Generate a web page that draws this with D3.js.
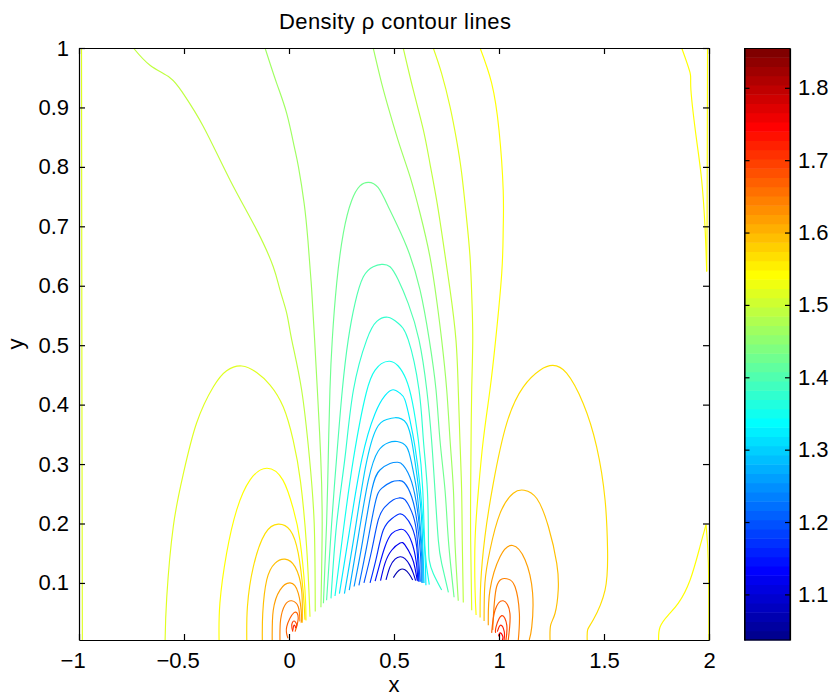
<!DOCTYPE html>
<html>
<head>
<meta charset="utf-8">
<title>Density contour lines</title>
<script src="https://d3js.org/d3.v7.min.js"></script>
<style>
  body { margin: 0; background: #fff; }
  svg text { font-family: "Liberation Sans", Arial, sans-serif; fill: #000; }
  .axis text { font-size: 22px; }
  .axis path, .axis line { stroke: #000; stroke-width: 1.2; }
</style>
</head>
<body>
<svg id="chart" width="835" height="697"></svg>
<script>
// axis ranges and ticks
var xDomain = [-1, 2];
var yDomain = [0.004, 1];
var rhoDomain = [1.037, 1.855];
var xTicks = [-1, -0.5, 0, 0.5, 1, 1.5, 2];
var yTicks = [0.1, 0.2, 0.3, 0.4, 0.5, 0.6, 0.7, 0.8, 0.9, 1];
var rhoTicks = [1.1, 1.2, 1.3, 1.4, 1.5, 1.6, 1.7, 1.8];

// contour lines, [x, y], named by level
var r1063 = [[.497,.109],[.515,.118],[.533,.123],[.552,.122],[.572,.115],[.589,.105]];
var r1090 = [[.462,.105],[.481,.127],[.505,.140],[.529,.144],[.552,.141],[.575,.130],[.592,.116],[.603,.104]];
var r1116 = [[.436,.104],[.457,.133],[.489,.155],[.529,.167],[.552,.164],[.584,.144],[.600,.125],[.611,.104]];
var r1143 = [[.410,.103],[.433,.133],[.457,.161],[.489,.183],[.527,.190],[.552,.188],[.584,.169],[.606,.135],[.614,.103]];
var r1169 = [[.386,.100],[.417,.144],[.449,.189],[.489,.208],[.525,.216],[.552,.212],[.584,.195],[.608,.161],[.618,.102]];
var r1195 = [[.357,.100],[.394,.155],[.425,.206],[.457,.228],[.497,.240],[.525,.243],[.552,.240],[.584,.220],[.608,.184],[.624,.102]];
var r1222 = [[.333,.096],[.370,.161],[.410,.234],[.441,.259],[.489,.270],[.522,.272],[.548,.269],[.584,.245],[.611,.200],[.627,.144],[.629,.102]];
var r1248 = [[.310,.094],[.346,.161],[.394,.256],[.433,.290],[.481,.301],[.518,.303],[.544,.298],[.584,.270],[.616,.211],[.632,.144],[.633,.100]];
var r1274 = [[.287,.088],[.330,.178],[.378,.273],[.425,.322],[.473,.336],[.515,.338],[.560,.329],[.584,.301],[.608,.256],[.624,.200],[.636,.144],[.638,.100]];
var r1301 = [[.264,.082],[.312,.183],[.365,.296],[.417,.360],[.465,.375],[.505,.378],[.535,.376],[.560,.368],[.584,.340],[.608,.284],[.627,.228],[.636,.172],[.643,.100]];
var r1327 = [[.240,.082],[.286,.183],[.346,.307],[.410,.385],[.457,.415],[.495,.425],[.529,.419],[.552,.408],[.576,.374],[.600,.329],[.624,.262],[.640,.190],[.648,.144],[.652,.096]];
var r1354 = [[.219,.078],[.259,.189],[.306,.307],[.368,.420],[.410,.458],[.44,.469],[.48,.473],[.52,.465],[.557,.443],[.587,.405],[.616,.340],[.637,.256],[.648,.155],[.668,.097]];
var r1380 = [[.200,.074],[.227,.200],[.267,.312],[.307,.425],[.37,.509],[.418,.540],[.471,.547],[.520,.537],[.568,.509],[.619,.425],[.640,.340],[.659,.256],[.664,.172],[.668,.138],[.687,.116],[.727,.088]];
var r1406 = [[.179,.071],[.203,.200],[.227,.312],[.254,.425],[.282,.509],[.314,.570],[.354,.615],[.401,.632],[.441,.636],[.481,.632],[.520,.610],[.568,.570],[.619,.509],[.656,.425],[.679,.340],[.695,.256],[.711,.172],[.727,.133],[.759,.084]];
var r1433 = [[.164,.066],[.179,.200],[.187,.312],[.195,.425],[.206,.509],[.227,.604],[.259,.689],[.298,.743],[.338,.768],[.378,.774],[.425,.765],[.481,.727],[.560,.666],[.624,.593],[.668,.509],[.700,.425],[.719,.340],[.743,.256],[.759,.172],[.786,.076]];
var r1459a = [[-.114,1],[-.059,.941],[-.011,.890],[.025,.834],[.045,.800],[.072,.739],[.090,.677],[.108,.593],[.122,.509],[.135,.425],[.151,.312],[.158,.200],[.152,.059]];
var r1459b = [[.401,1],[.441,.941],[.481,.890],[.529,.834],[.576,.784],[.624,.722],[.671,.649],[.703,.576],[.727,.509],[.751,.425],[.767,.340],[.783,.256],[.790,.172],[.806,.070]];
var r1486a = [[-.741,1],[-.662,.971],[-.567,.950],[-.505,.924],[-.408,.868],[-.281,.778],[-.154,.694],[-.075,.632],[-.043,.593],[-.011,.554],[.013,.509],[.060,.425],[.097,.312],[.120,.200],[.125,.052]];
var r1486b = [[.544,1],[.592,.929],[.640,.862],[.671,.806],[.703,.744],[.735,.671],[.767,.593],[.795,.509],[.806,.425],[.814,.340],[.822,.256],[.825,.172],[.830,.067]];
var r1512a = [[-.590,.004],[-.582,.077],[-.551,.195],[-.503,.284],[-.440,.369],[-.360,.430],[-.297,.457],[-.225,.465],[-.154,.454],[-.090,.433],[-.027,.396],[.020,.340],[.055,.270],[.084,.160],[.100,.043]];
var r1512b = [[.687,1],[.727,.957],[.767,.901],[.798,.845],[.822,.790],[.843,.722],[.862,.649],[.871,.576],[.875,.509],[.870,.425],[.867,.340],[.865,.256],[.865,.172],[.870,.054]];
var r1512c = [[-.988,1],[-.987,.7],[-.986,.4],[-.984,.004]];
var r1538a = [[-.333,.004],[-.329,.066],[-.297,.150],[-.249,.223],[-.186,.273],[-.106,.293],[-.029,.273],[.020,.225],[.052,.172],[.076,.088],[.081,.037]];
var r1538b = [[.910,1],[.965,.941],[1.0,.862],[1.020,.761],[1.020,.694],[1.013,.621],[.984,.509],[.957,.425],[.925,.340],[.902,.256],[.886,.172],[.886,.088],[.891,.046]];
var r1538c = [[1.870,1],[1.91,.958],[1.914,.929],[1.941,.845],[1.965,.778],[1.981,.699],[1.989,.624]];
var r1538c2 = [[1.989,.624],[1.991,.72],[1.992,.85],[1.993,1]];
var r1538d = [[1.760,.004],[1.767,.026],[1.806,.046],[1.854,.066],[1.91,.105],[1.957,.161],[1.986,.198]];
var r1538d2 = [[1.986,.198],[1.997,.133],[1.999,.004]];
var r1565a = [[-.201,.004],[-.198,.060],[-.170,.127],[-.114,.183],[-.051,.199],[.005,.189],[.044,.150],[.068,.083],[.076,.038]];
var r1565b = [[.910,.042],[.913,.100],[.933,.178],[.973,.268],[1.037,.369],[1.116,.430],[1.195,.458],[1.256,.466],[1.322,.453],[1.401,.402],[1.465,.329],[1.505,.240],[1.517,.155],[1.505,.088],[1.449,.038],[1.422,.021],[1.420,.004]];
var r1591a = [[-.127,.004],[-.125,.049],[-.106,.105],[-.067,.133],[-.019,.140],[.029,.127],[.060,.088],[.063,.033]];
var r1591b = [[.929,.036],[.933,.100],[.957,.155],[1.005,.217],[1.068,.251],[1.120,.256],[1.180,.242],[1.235,.195],[1.275,.133],[1.282,.088],[1.267,.049],[1.246,.029],[1.243,.004]];
var r1618a = [[-.080,.004],[-.075,.054],[-.043,.088],[.005,.100],[.044,.083],[.060,.043],[.056,.033]];
var r1618b = [[.949,.029],[.957,.088],[1.005,.144],[1.065,.163],[1.124,.139],[1.160,.083],[1.156,.026],[1.144,.004]];
var r1644a = [[-.043,.004],[-.040,.038],[-.019,.063],[.013,.070],[.044,.060],[.052,.035]];
var r1644b = [[.970,.021],[.989,.094],[1.037,.107],[1.076,.094],[1.097,.049],[1.092,.004]];
var r1670a = [[-.005,.007],[-.011,.026],[.024,.050],[.044,.041],[.029,.018]];
var r1670b = [[.965,.016],[.981,.054],[1.02,.070],[1.052,.049],[1.044,.004]];
var r1697a = [[.018,.018],[.013,.029],[.024,.036],[.037,.029],[.029,.024]];
var r1697b = [[.984,.016],[.986,.026],[1.013,.045],[1.037,.029],[1.033,.004]];
var r1723a = [[.018,.020],[.024,.029],[.033,.024]];
var r1723b = [[.992,.018],[1.008,.029],[1.025,.018],[1.024,.004]];
var r1750b = [[.998,.010],[1.005,.016],[1.018,.010],[1.016,.004]];

var contourLevels = [1.063,1.090,1.116,1.143,1.169,1.195,1.222,1.248,1.274,1.301,1.327,1.354,1.380,1.406,1.433,
  1.459,1.459,1.486,1.486,1.512,1.512,1.512,1.538,1.538,1.538,1.538,1.538,1.538,1.565,1.565,1.591,1.591,1.618,1.618,1.644,1.644,1.670,1.670,1.697,1.697,1.723,1.723,1.750];
var contourLines = [r1063,r1090,r1116,r1143,r1169,r1195,r1222,r1248,r1274,r1301,r1327,r1354,r1380,r1406,r1433,
  r1459a,r1459b,r1486a,r1486b,r1512a,r1512b,r1512c,r1538a,r1538b,r1538c,r1538c2,r1538d,r1538d2,r1565a,r1565b,r1591a,r1591b,r1618a,r1618b,r1644a,r1644b,r1670a,r1670b,r1697a,r1697b,r1723a,r1723b,r1750b];

var svg = d3.select("#chart");
var plot = {left: 79, right: 709, top: 48, bottom: 640};
var bar = {left: 744.5, right: 790};

var x = d3.scaleLinear().domain(xDomain).range([plot.left, plot.right]);
var y = d3.scaleLinear().domain(yDomain).range([plot.bottom, plot.top]);
var yBar = d3.scaleLinear().domain(rhoDomain).range([plot.bottom, plot.top]);

// matlab jet, 64 steps
var jetRamp = d3.scaleLinear()
  .domain([0, 7/63, 23/63, 39/63, 55/63, 1])
  .range(["#000090", "#0000ff", "#00ffff", "#ffff00", "#ff0000", "#800000"]);
function jet(v) {
  var i = Math.min(63, Math.floor((v - rhoDomain[0]) / (rhoDomain[1] - rhoDomain[0]) * 64));
  return jetRamp(i / 63);
}

var clipId = "plotClip";
svg.append("clipPath").attr("id", clipId).append("rect")
  .attr("x", plot.left).attr("y", plot.top)
  .attr("width", plot.right - plot.left).attr("height", plot.bottom - plot.top);

var line = d3.line()
  .x(function(d) { return x(d[0]); })
  .y(function(d) { return y(d[1]); })
  .curve(d3.curveNatural);

svg.append("g").attr("clip-path", "url(#" + clipId + ")")
  .selectAll("path").data(contourLines).enter().append("path")
  .attr("d", line)
  .attr("fill", "none")
  .attr("stroke-width", 1.15)
  .attr("stroke", function(d, i) { return jet(contourLevels[i]); });

function fmtX(d) { return String(d).replace("-", "\u2212"); }

var xAxis = svg.append("g").attr("class", "axis")
  .attr("transform", "translate(0," + plot.bottom + ")")
  .call(d3.axisBottom(x).tickValues(xTicks).tickFormat(fmtX).tickSizeInner(-6).tickSizeOuter(0).tickPadding(12.5));
// the digits sit on the tick, the minus hangs to the left
xAxis.selectAll("text").attr("dx", function(d) { return d < 0 ? -6.4 : 0; });
svg.append("g").attr("class", "axis")
  .attr("transform", "translate(0," + plot.top + ")")
  .call(d3.axisTop(x).tickValues(xTicks).tickFormat("").tickSizeInner(-6).tickSizeOuter(0));
svg.append("g").attr("class", "axis")
  .attr("transform", "translate(" + plot.left + ",0)")
  .call(d3.axisLeft(y).tickValues(yTicks).tickFormat(String).tickSizeInner(-6).tickSizeOuter(0).tickPadding(10));
svg.append("g").attr("class", "axis")
  .attr("transform", "translate(" + plot.right + ",0)")
  .call(d3.axisRight(y).tickValues(yTicks).tickFormat("").tickSizeInner(-6).tickSizeOuter(0));

// colorbar
var bands = d3.range(64);
var bandH = (plot.bottom - plot.top) / 64;
svg.append("g").selectAll("rect").data(bands).enter().append("rect")
  .attr("x", bar.left)
  .attr("width", bar.right - bar.left)
  .attr("y", function(d) { return plot.bottom - (d + 1) * bandH; })
  .attr("height", bandH + 0.5)
  .attr("fill", function(d) { return jetRamp(d / 63); });

svg.append("g").attr("class", "axis")
  .attr("transform", "translate(" + bar.right + ",0)")
  .call(d3.axisRight(yBar).tickValues(rhoTicks).tickFormat(d3.format(".1f")).tickSizeInner(-5).tickSizeOuter(0).tickPadding(8));
svg.append("g").attr("class", "axis")
  .attr("transform", "translate(" + bar.left + ",0)")
  .call(d3.axisLeft(yBar).tickValues(rhoTicks).tickFormat("").tickSizeInner(-5).tickSizeOuter(0));
svg.append("rect")
  .attr("x", bar.left).attr("y", plot.top + 0.5)
  .attr("width", bar.right - bar.left).attr("height", plot.bottom - plot.top - 0.5)
  .attr("fill", "none").attr("stroke", "#000");

// labels
svg.append("text").attr("x", 279).attr("y", 29)
  .attr("textLength", 232).attr("lengthAdjust", "spacing")
  .style("font-size", "22px").text("Density \u03c1 contour lines");
svg.append("text").attr("x", 394).attr("y", 691.5).attr("text-anchor", "middle")
  .style("font-size", "22px").text("x");
svg.append("text").attr("transform", "translate(23,344) rotate(-90)").attr("text-anchor", "middle")
  .style("font-size", "22px").text("y");
</script>
</body>
</html>
